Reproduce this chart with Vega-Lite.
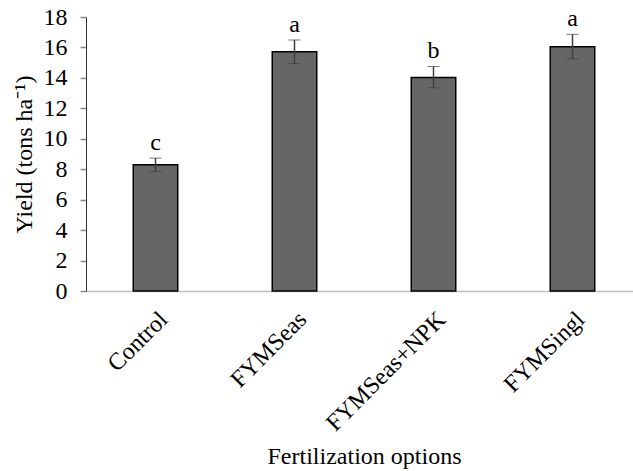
{
  "$schema": "https://vega.github.io/schema/vega-lite/v6.json",
  "autosize": "none",
  "width": 556,
  "height": 274,
  "padding": {"left": 86, "top": 17, "right": 0, "bottom": 180},
  "background": "white",
  "config": {
    "view": {"stroke": null},
    "font": "Liberation Serif",
    "axis": {"labelFont": "Liberation Serif", "titleFont": "Liberation Serif"}
  },
  "resolve": {"axis": {"y": "independent"}},
  "data": {
    "values": [
      {"option": "Control", "yield": 8.29, "lo": 7.85, "hi": 8.73, "letter": "c"},
      {"option": "FYMSeas", "yield": 15.71, "lo": 14.94, "hi": 16.49, "letter": "a"},
      {"option": "FYMSeas+NPK", "yield": 14.03, "lo": 13.35, "hi": 14.75, "letter": "b"},
      {"option": "FYMSingl", "yield": 16.05, "lo": 15.25, "hi": 16.86, "letter": "a"}
    ]
  },
  "encoding": {
    "x": {
      "field": "option",
      "type": "nominal",
      "sort": null,
      "scale": {"paddingInner": 0.68, "paddingOuter": 0.34},
      "axis": {
        "title": "Fertilization options",
        "titleFont": "Liberation Serif",
        "titleFontSize": 24,
        "titleFontWeight": "normal",
        "titleColor": "black",
        "titlePadding": 9,
        "labelAngle": -45,
        "labelFont": "Liberation Serif",
        "labelFontSize": 24,
        "labelColor": "black",
        "labelPadding": 16,
        "ticks": false,
        "domainColor": "#bfbfbf",
        "domainWidth": 1.5
      }
    }
  },
  "layer": [
    {
      "mark": {"type": "bar", "color": "#666666", "stroke": "black", "strokeWidth": 1.5},
      "encoding": {
        "y": {
          "field": "yield",
          "type": "quantitative",
          "scale": {"domain": [0, 18]},
          "axis": {
            "title": "Yield (tons ha⁻¹)",
            "titleFont": "Liberation Serif",
            "titleFontSize": 24,
            "titleFontWeight": "normal",
            "titleColor": "black",
            "titlePadding": 7,
            "values": [0, 2, 4, 6, 8, 10, 12, 14, 16, 18],
            "labelFont": "Liberation Serif",
            "labelFontSize": 24,
            "labelColor": "black",
            "labelPadding": 13,
            "labelOverlap": false,
            "tickSize": 6,
            "tickColor": "#888888",
            "tickWidth": 1.5,
            "domainColor": "#333333",
            "domainWidth": 1,
            "grid": false
          }
        }
      }
    },
    {
      "mark": {"type": "errorbar", "ticks": {"size": 12, "color": "#404040", "strokeWidth": 1.5}, "rule": {"color": "#404040", "strokeWidth": 1.5}},
      "encoding": {
        "y": {"field": "lo", "type": "quantitative", "axis": null},
        "y2": {"field": "hi"}
      }
    },
    {
      "mark": {"type": "text", "font": "Liberation Serif", "fontSize": 24, "color": "black", "baseline": "bottom", "dy": -3},
      "encoding": {
        "y": {"field": "hi", "type": "quantitative", "axis": null},
        "text": {"field": "letter"}
      }
    }
  ]
}
